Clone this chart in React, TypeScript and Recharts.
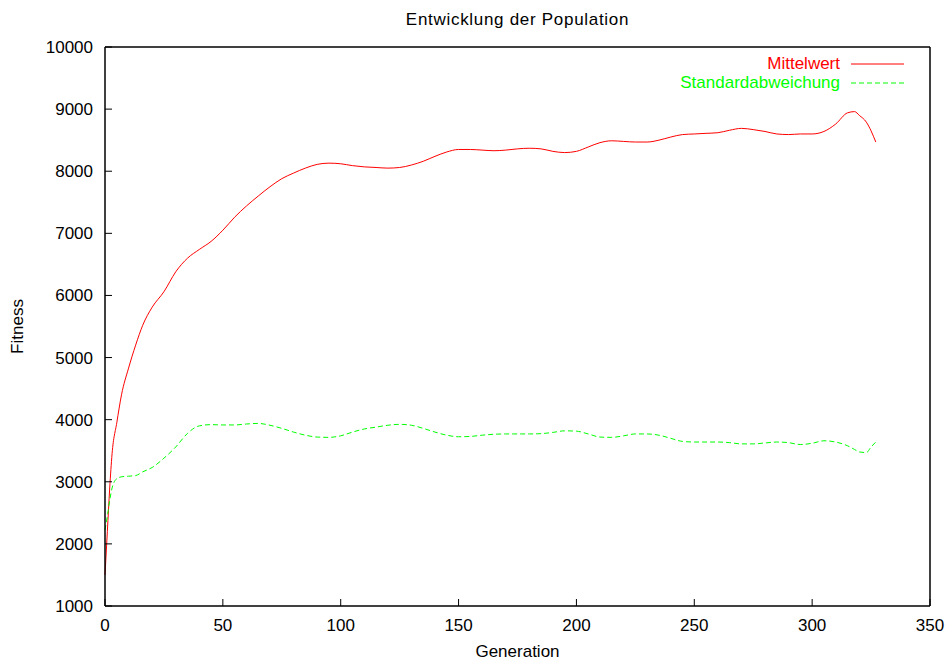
import React from "react";
import {
  LineChart,
  Line,
  XAxis,
  YAxis,
  Legend,
  Label,
} from "recharts";

// generation index shared by both series
const generations = [
  0, 1, 2, 3, 5, 7, 10, 13, 16, 20, 25, 30, 35, 40, 45, 50, 55, 60, 65, 70,
  75, 80, 85, 90, 95, 100, 105, 110, 115, 120, 125, 130, 135, 140, 145, 150,
  155, 160, 165, 170, 175, 180, 185, 190, 195, 200, 205, 210, 215, 220, 225,
  230, 235, 240, 245, 250, 255, 260, 265, 270, 275, 280, 285, 290, 295, 300,
  305, 310, 315, 318, 320, 323, 325, 327,
];

const mittelwert = [
  1500, 2200, 2900, 3450, 3950, 4400, 4830, 5200, 5520, 5810, 6060, 6380,
  6600, 6740, 6870, 7050, 7260, 7440, 7600, 7750, 7880, 7970, 8050, 8110,
  8130, 8120, 8090, 8070, 8060, 8050, 8060, 8100, 8160, 8240, 8310, 8350,
  8350, 8340, 8330, 8340, 8360, 8370, 8360, 8320, 8300, 8320, 8390, 8460,
  8490, 8480, 8470, 8470, 8500, 8550, 8590, 8600, 8610, 8620, 8660, 8690,
  8670, 8640, 8600, 8590, 8600, 8600, 8640, 8760, 8940, 8960, 8900, 8790,
  8650, 8470,
];

const standardabweichung = [
  2224, 2450, 2700, 2900, 3050, 3080, 3090, 3100, 3160, 3230, 3380, 3560,
  3780, 3900, 3920, 3915, 3915, 3930, 3940, 3910, 3860, 3800, 3750, 3720,
  3715, 3740, 3800, 3850, 3880, 3910, 3925, 3910, 3860, 3800, 3750, 3725,
  3730, 3750, 3765, 3770, 3770, 3770, 3775, 3795, 3820, 3815, 3770, 3720,
  3715, 3740, 3770, 3770, 3750, 3700, 3650, 3640, 3640, 3640, 3630, 3610,
  3610, 3625, 3640, 3630, 3600, 3620, 3660, 3640, 3580, 3520, 3480, 3470,
  3560, 3640,
];

const xTicks = [0, 50, 100, 150, 200, 250, 300, 350];
const yTicks = [1000, 2000, 3000, 4000, 5000, 6000, 7000, 8000, 9000, 10000];

const data = generations.map((gen, i) => ({
  gen,
  mittelwert: mittelwert[i],
  std: standardabweichung[i],
}));

const FONT = "'Liberation Sans', Arial, Helvetica, sans-serif";
const tickStyle = { fontSize: 17, fill: "#000" };
const axisLine = { stroke: "#000", strokeWidth: 1.5 };
const tickLine = { stroke: "#000", strokeWidth: 1 };

const renderLegend = (props: any) => {
  const items = (props.payload || []).filter((it: any) => it.type !== "none");
  return (
    <div style={{ width: 904 }}>
      {items.map((it: any) => (
        <div
          key={it.value}
          style={{
            display: "flex",
            justifyContent: "flex-end",
            alignItems: "center",
            height: 18.5,
            fontSize: 17,
            color: it.color,
          }}
        >
          <span style={{ marginRight: 11 }}>{it.value}</span>
          <svg width={53} height={4}>
            <line
              x1={0}
              y1={2}
              x2={53}
              y2={2}
              stroke={it.color}
              strokeWidth={1}
              strokeDasharray={it.payload?.strokeDasharray}
            />
          </svg>
        </div>
      ))}
    </div>
  );
};

export default function App() {
  return (
    <div
      style={{
        position: "absolute",
        left: 0,
        top: 0,
        width: 945,
        height: 662,
        background: "#fff",
        fontFamily: FONT,
      }}
    >
      <div
        style={{
          position: "absolute",
          left: 0,
          width: 1035,
          top: 11,
          textAlign: "center",
          fontSize: 17,
          lineHeight: "17px",
          letterSpacing: 0.7,
        }}
      >
        Entwicklung der Population
      </div>
      <LineChart
        width={945}
        height={662}
        data={data}
        margin={{ top: 46, right: 14, bottom: 0, left: 0 }}
      >
        <XAxis
          dataKey="gen"
          type="number"
          domain={[0, 350]}
          ticks={xTicks}
          interval={0}
          height={56}
          tickSize={-7}
          tickMargin={20}
          tick={tickStyle}
          axisLine={axisLine}
          tickLine={tickLine}
        >
          <Label
            content={(p: any) => (
              <text
                x={p.viewBox.x + p.viewBox.width / 2}
                y={p.viewBox.y + 51}
                textAnchor="middle"
                fontSize={17}
                fill="#000"
              >
                Generation
              </text>
            )}
          />
        </XAxis>
        <XAxis
          xAxisId="top"
          dataKey="gen"
          orientation="top"
          type="number"
          domain={[0, 350]}
          ticks={xTicks}
          interval={0}
          height={1}
          tickSize={-7}
          tick={false}
          axisLine={axisLine}
          tickLine={tickLine}
        />
        <YAxis
          type="number"
          domain={[1000, 10000]}
          ticks={yTicks}
          interval={0}
          width={105}
          tickSize={-7}
          tickMargin={19}
          tick={tickStyle}
          axisLine={axisLine}
          tickLine={tickLine}
        >
          <Label
            content={(p: any) => {
              const cx = 17;
              const cy = p.viewBox.y + p.viewBox.height / 2;
              return (
                <text
                  x={cx}
                  y={cy}
                  textAnchor="middle"
                  dominantBaseline="central"
                  fontSize={17}
                  fill="#000"
                  transform={`rotate(-90, ${cx}, ${cy})`}
                >
                  Fitness
                </text>
              );
            }}
          />
        </YAxis>
        <YAxis
          yAxisId="right"
          orientation="right"
          type="number"
          domain={[1000, 10000]}
          ticks={yTicks}
          interval={0}
          width={1}
          tickSize={-7}
          tick={false}
          axisLine={axisLine}
          tickLine={tickLine}
        />
        <Legend
          content={renderLegend}
          layout="horizontal"
          verticalAlign="middle"
          align="center"
          wrapperStyle={{ position: "absolute", left: 0, top: 55, width: 904 }}
        />
        <Line
          name="Mittelwert"
          dataKey="mittelwert"
          type="monotone"
          stroke="#ff0000"
          strokeWidth={1}
          dot={false}
          isAnimationActive={false}
        />
        <Line
          name="Standardabweichung"
          dataKey="std"
          type="monotone"
          stroke="#00ff00"
          strokeWidth={1}
          strokeDasharray="5 3"
          dot={false}
          isAnimationActive={false}
        />
        {/* invisible series so the mirrored top/right axes get drawn */}
        <Line
          xAxisId="top"
          yAxisId="right"
          dataKey="mittelwert"
          stroke="none"
          legendType="none"
          dot={false}
          activeDot={false}
          isAnimationActive={false}
        />
      </LineChart>
    </div>
  );
}
